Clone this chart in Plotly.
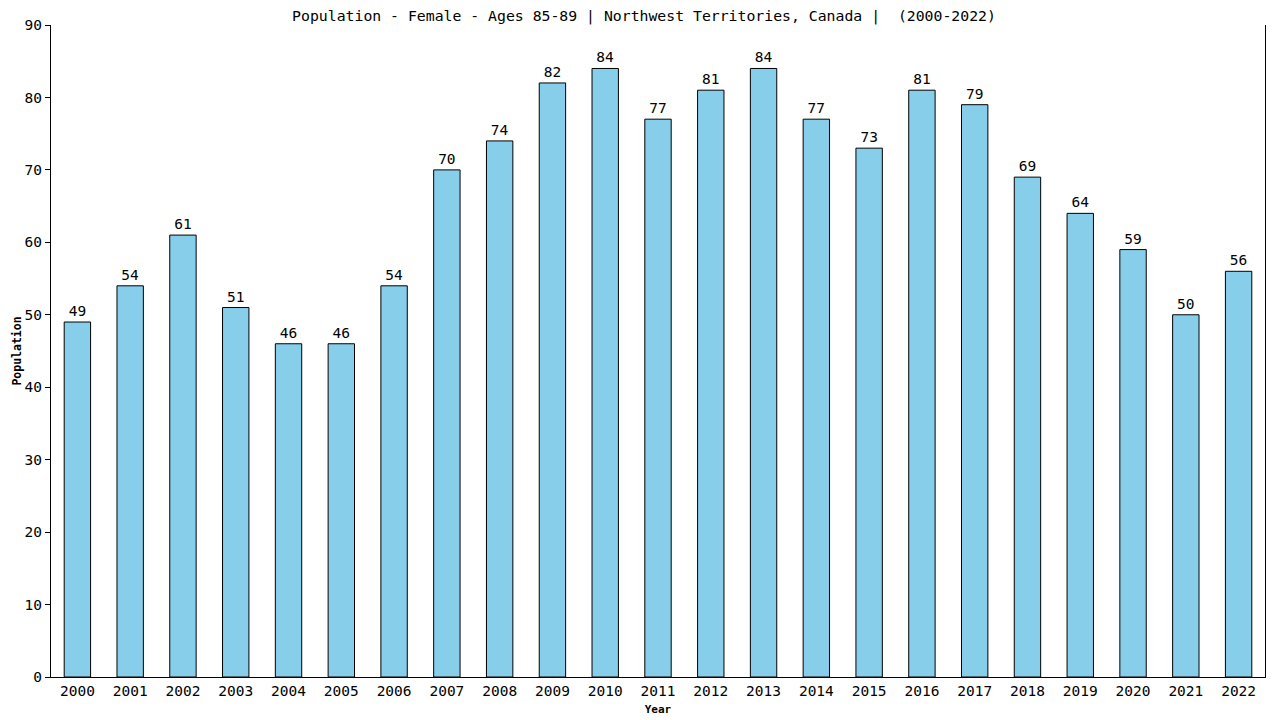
import plotly.graph_objects as go

years = [str(y) for y in range(2000, 2023)]
population = [49, 54, 61, 51, 46, 46, 54, 70, 74, 82, 84, 77, 81, 84, 77, 73, 81, 79, 69, 64, 59, 50, 56]

font_name = "DejaVu Sans Mono"

fig = go.Figure()
fig.add_trace(go.Bar(
    x=years,
    y=population,
    width=0.5,
    marker=dict(color="#87CEEB", line=dict(color="black", width=1)),
    text=population,
    textposition="outside",
    textfont=dict(family=font_name, size=14.5, color="black"),
    cliponaxis=False,
))

# the page puts the figure 8px in from the corner, so it is sized to fit the window
fig.update_layout(
    width=1272, height=712,
    margin=dict(l=43, r=15, t=17, b=43),
    plot_bgcolor="white", paper_bgcolor="white",
    showlegend=False,
    font=dict(family=font_name, color="black"),
    title=dict(
        text="Population - Female - Ages 85-89 | Northwest Territories, Canada |  (2000-2022)",
        x=0.5, xanchor="center", yref="container", y=0.996, yanchor="top",
        pad=dict(t=0, b=0),
        font=dict(family=font_name, size=14.8, color="black"),
        automargin=False,
    ),
)
fig.update_xaxes(
    type="category", automargin=False,
    showline=True, linecolor="black", linewidth=1.2,
    mirror=False, showgrid=False, ticks="",
    tickfont=dict(family=font_name, size=14.5, color="black"),
    title=dict(text="<b>Year</b>", font=dict(family=font_name, size=11), standoff=7),
)
fig.update_yaxes(
    range=[0, 90], dtick=10, automargin=False,
    showline=True, linecolor="black", linewidth=1.2,
    mirror=True, showgrid=False, zeroline=False,
    ticks="outside", ticklen=5, tickcolor="black",
    tickfont=dict(family=font_name, size=14.5, color="black"),
    title=dict(text="<b>Population</b>", font=dict(family=font_name, size=11.5), standoff=0),
)

fig.write_html("out.html")
